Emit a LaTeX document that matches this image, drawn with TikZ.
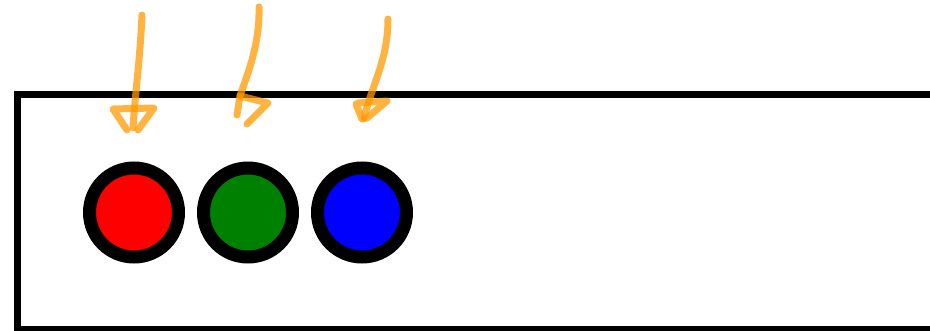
\documentclass[tikz,border=0pt]{standalone}
\definecolor{pen}{RGB}{255,153,0}
\definecolor{dotgreen}{RGB}{0,128,0}
\begin{document}
\begin{tikzpicture}[x=1pt,y=-1pt,
  dot/.style={circle,draw=black,line width=13pt,minimum size=89pt,inner sep=0pt},
  ink/.style={draw=pen,opacity=0.75,line width=7pt,line cap=round,line join=round}]
\useasboundingbox (0,0) rectangle (930,331);
\draw[line width=7pt] (950,94.5) -- (17.5,94.5) -- (17.5,330) -- (950,330);
\node[dot,fill=red] (r) at (134,212.5) {};
\node[dot,fill=dotgreen] (g) at (248,212.5) {};
\node[dot,fill=blue] (b) at (362,212.5) {};
% arrow 1
\draw[ink] (142,15) .. controls (140,60) and (135,95) .. (133,128);
\draw[ink] (127,130) -- (113,109) -- (154,108) -- (138,130);
% arrow 2
\draw[ink] (259,7) .. controls (260,45) and (247,75) .. (240,96) -- (237,115);
\draw[ink] (240,96) -- (268,103) -- (247,124);
% arrow 3
\draw[ink] (388,19) .. controls (388,60) and (372,85) .. (364,118);
\draw[ink] (356,104) -- (362,119) -- (367,118) -- (387,101) -- (358,103);
\end{tikzpicture}
\end{document}
